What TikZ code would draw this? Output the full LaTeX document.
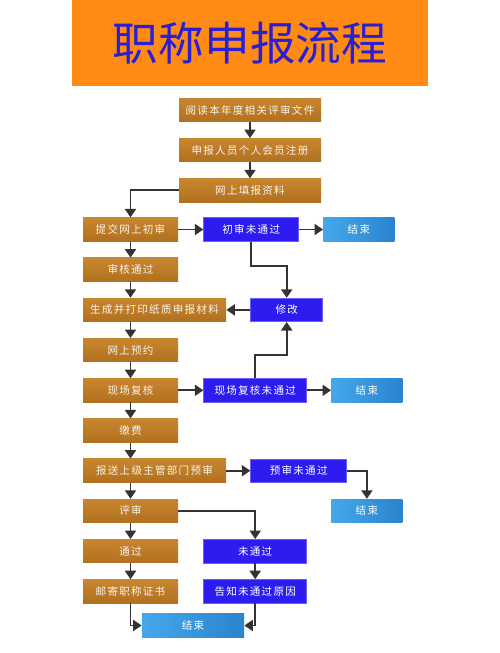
\documentclass[tikz,border=0pt]{standalone}
\usepackage{fontspec}
\newfontfamily\cjk{Noto Sans CJK SC}
\newfontfamily\cjkwide{Noto Sans CJK SC}[LetterSpace=12]
\usepackage{tikz}
\usetikzlibrary{positioning, arrows.meta, calc}
\definecolor{titleOrange}{HTML}{FF8A14}
\definecolor{titleBlue}{HTML}{2A1FD2}
\definecolor{stepBrown}{HTML}{C98630}
\definecolor{stepBrownDark}{HTML}{B0701E}
\definecolor{failBlue}{HTML}{2C1CF0}
\definecolor{endBlue}{HTML}{45A8EA}
\definecolor{endBlueDark}{HTML}{2A84CF}
\definecolor{lineDark}{HTML}{333333}

\begin{document}
\begin{tikzpicture}[
  x=0.2mm, y=-0.2mm,
  % Styles
  box/.style={
    rectangle, minimum height=4.7mm, inner sep=0pt,
    font=\cjkwide\fontsize{6}{7}\selectfont, align=center
  },
  stepbox/.style={
    box, minimum width=#1,
    top color=stepBrown, bottom color=stepBrownDark,
    text=white!90!stepBrown
  },
  stepbox/.default=19mm,
  failbox/.style={
    box, minimum width=#1, fill=failBlue, draw=failBlue!70!white,
    line width=0.4pt, text=white
  },
  failbox/.default=20.6mm,
  endbox/.style={
    box, minimum width=#1,
    left color=endBlue, right color=endBlueDark, text=white
  },
  endbox/.default=14.2mm,
  flow/.style={
    -{Triangle[length=1.7mm, width=2.2mm]}, line width=1.1pt, draw=lineDark
  },
]
\useasboundingbox (0,0) rectangle (500,653);

% === TITLE ===
\node[rectangle, fill=titleOrange, minimum width=71.2mm, minimum height=17.2mm,
  inner sep=0pt, font=\cjk\fontsize{26}{30}\selectfont, text=titleBlue]
  (title) at (250,43) {职称申报流程};

% === TOP STEPS ===
\node[stepbox=28.4mm] (read) at (250,110) {阅读本年度相关评审文件};
\node[stepbox=28.4mm, below=3.2mm of read] (register) {申报人员个人会员注册};
\node[stepbox=28.4mm, below=3.2mm of register] (fillin) {网上填报资料};

% === LEFT COLUMN ===
\node[stepbox] (submit) at (130.5,229.5) {提交网上初审};
\node[stepbox, below=3.2mm of submit] (audit) {审核通过};
\node[stepbox=28.6mm, below=3.2mm of audit.south west, anchor=north west] (print) {生成并打印纸质申报材料};
\node[stepbox, below=3.2mm of print.south west, anchor=north west] (booking) {网上预约};
\node[stepbox, below=3.2mm of booking] (onsite) {现场复核};
\node[stepbox, below=3.2mm of onsite] (pay) {缴费};
\node[stepbox=28.6mm, below=3.2mm of pay.south west, anchor=north west] (upper) {报送上级主管部门预审};
\node[stepbox, below=3.2mm of upper.south west, anchor=north west] (review) {评审};
\node[stepbox, below=3.2mm of review] (pass) {通过};
\node[stepbox, below=3.2mm of pass] (mail) {邮寄职称证书};

% === FAIL BRANCHES ===
\node[failbox=19mm, right=5mm of submit] (firstfail) {初审未通过};
\node[endbox, right=4.8mm of firstfail] (endA) {结束};
\node[failbox=14.4mm, right=4.8mm of print] (revise) {修改};
\node[failbox, right=5mm of onsite] (onsitefail) {现场复核未通过};
\node[endbox, right=4.8mm of onsitefail] (endB) {结束};
\node[failbox=19.2mm, right=4.8mm of upper] (prefail) {预审未通过};
\node[endbox] (endC) at (endB |- review) {结束};
\node[failbox, right=5mm of pass] (fail) {未通过};
\node[failbox, right=5mm of mail] (notify) {告知未通过原因};
\node[endbox=20.4mm] (endD) at (193,625.5) {结束};

% === Main flow ===
\draw[flow] (read) -- (register);
\draw[flow] (register) -- (fillin);
\draw[flow] (fillin.west) -| (submit.north);
\draw[flow] (submit) -- (audit);
\draw[flow] (audit.south) -- (audit.south |- print.north);
\draw[flow] (booking.north |- print.south) -- (booking.north);
\draw[flow] (booking) -- (onsite);
\draw[flow] (onsite) -- (pay);
\draw[flow] (pay.south) -- (pay.south |- upper.north);
\draw[flow] (review.north |- upper.south) -- (review.north);
\draw[flow] (review) -- (pass);
\draw[flow] (pass) -- (mail);

% === Fail branches ===
\draw[flow] (submit) -- (firstfail);
\draw[flow] (firstfail) -- (endA);
\draw[flow] (firstfail.south) -- ++(0,24) -| (revise.north);
\draw[flow] (revise) -- (print);
\draw[flow] (onsite) -- (onsitefail);
\draw[flow] (onsitefail) -- (endB);
\draw[flow] (onsitefail.north) -- ++(0,-23) -| (revise.south);
\draw[flow] (upper) -- (prefail);
\draw[flow] (prefail.east) -| (endC.north);
\draw[flow] (review.east) -| (fail.north);
\draw[flow] (fail) -- (notify);

% === Final end ===
\draw[flow] (mail.south) |- (endD.west);
\draw[flow] (notify.south) |- (endD.east);

\end{tikzpicture}
\end{document}
